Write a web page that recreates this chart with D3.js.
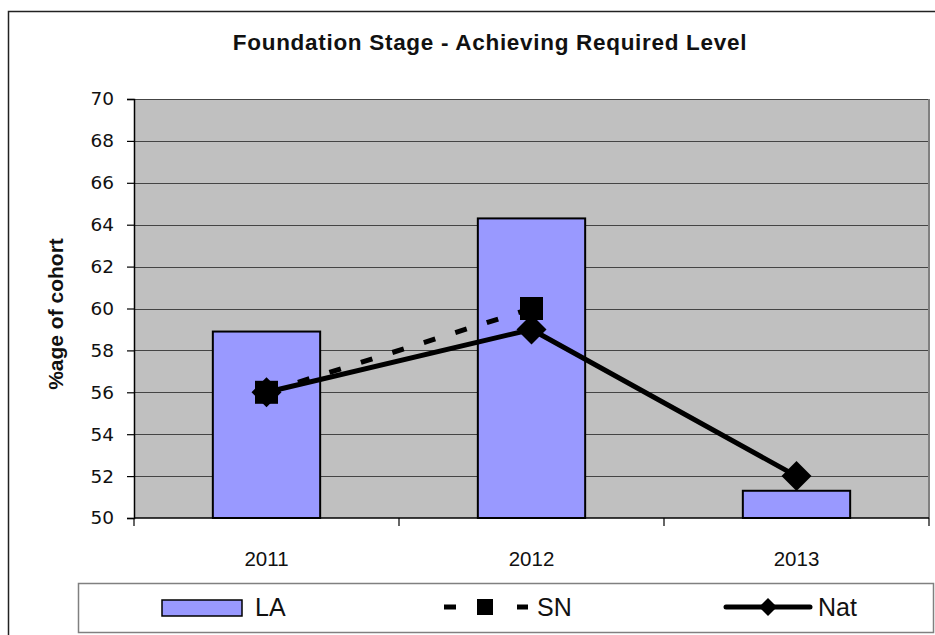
<!DOCTYPE html>
<html>
<head>
<meta charset="utf-8">
<script src="https://cdn.jsdelivr.net/npm/d3@7"></script>
<style>
  html, body { margin: 0; padding: 0; background: #ffffff; }
  svg { display: block; }
</style>
</head>
<body>
<svg id="chart" width="935" height="635"></svg>
<script>
// Foundation Stage results by year
const years = ["2011", "2012", "2013"];
const laValues = [58.9, 64.3, 51.3];      // LA (bars)
const snYears = ["2011", "2012"];
const snValues = [56, 60];                // SN (dashed line, squares)
const natValues = [56, 59, 52];           // Nat (solid line, diamonds)
const yTicks = [50, 52, 54, 56, 58, 60, 62, 64, 66, 68, 70];
const titleText = "Foundation Stage - Achieving Required Level";
const yLabelText = "%age of cohort";
const seriesNames = ["LA", "SN", "Nat"];

const svg = d3.select("#chart");
const plot = { left: 134, right: 929, top: 99, bottom: 518 };

// Outer chart frame (top and left edges are visible)
svg.append("path")
  .attr("d", "M8.5,640 V11.5 H940")
  .attr("fill", "none")
  .attr("stroke", "#222")
  .attr("stroke-width", 1.5);

// Title
svg.append("text")
  .attr("x", 490).attr("y", 50)
  .attr("text-anchor", "middle")
  .attr("font-family", "Liberation Sans, Arial, sans-serif")
  .attr("font-weight", "bold")
  .attr("font-size", 22.5)
  .attr("letter-spacing", "0.7px")
  .attr("fill", "#111")
  .text(titleText);

const x = d3.scaleBand().domain(years).range([plot.left, plot.right]).padding(0);
const y = d3.scaleLinear().domain([50, 70]).range([plot.bottom, plot.top]);
const cx = d => x(d) + x.bandwidth() / 2;
const barW = x.bandwidth() * 0.405;

// Plot background
svg.append("rect")
  .attr("x", plot.left).attr("y", plot.top)
  .attr("width", plot.right - plot.left).attr("height", plot.bottom - plot.top)
  .attr("fill", "#c0c0c0");

// Horizontal gridlines
svg.append("g").selectAll("line").data(yTicks.filter(t => t > 50)).join("line")
  .attr("x1", plot.left).attr("x2", plot.right)
  .attr("y1", d => Math.round(y(d)) + 0.5).attr("y2", d => Math.round(y(d)) + 0.5)
  .attr("stroke", "#444").attr("stroke-width", 1.2);

// Right edge of plot area
svg.append("line")
  .attr("x1", plot.right).attr("x2", plot.right)
  .attr("y1", plot.top).attr("y2", plot.bottom)
  .attr("stroke", "#808080").attr("stroke-width", 2);

// LA bars
svg.append("g").selectAll("rect").data(years).join("rect")
  .attr("x", d => cx(d) - barW / 2)
  .attr("y", (d, i) => y(laValues[i]))
  .attr("width", barW)
  .attr("height", (d, i) => y(50) - y(laValues[i]))
  .attr("fill", "#9999ff")
  .attr("stroke", "#000")
  .attr("stroke-width", 2);

// Y axis
const yAxis = d3.axisLeft(y).tickValues(yTicks).tickSize(7).tickPadding(13).tickFormat(d3.format("d"));
const gy = svg.append("g").attr("transform", `translate(${plot.left},0)`).call(yAxis);
gy.select(".domain").attr("stroke", "#000").attr("stroke-width", 1.5);
gy.selectAll(".tick line").attr("stroke", "#000").attr("stroke-width", 1.2);
gy.selectAll("text")
  .attr("font-family", "DejaVu Sans, sans-serif")
  .attr("font-size", 18.5)
  .attr("fill", "#111");

// X axis: baseline, boundary ticks, category labels
const gx = svg.append("g").attr("transform", `translate(0,${plot.bottom})`);
gx.append("line")
  .attr("x1", plot.left).attr("x2", plot.right)
  .attr("y1", 0).attr("y2", 0)
  .attr("stroke", "#000").attr("stroke-width", 1.5);
const bounds = years.map(d => x(d)).concat([x(years[years.length - 1]) + x.bandwidth()]);
gx.selectAll("line.bt").data(bounds).join("line")
  .attr("class", "bt")
  .attr("x1", d => d).attr("x2", d => d)
  .attr("y1", 0).attr("y2", 8)
  .attr("stroke", "#000").attr("stroke-width", 1.2);
const xAxis = d3.axisBottom(x).tickSize(0).tickPadding(0);
const gxl = svg.append("g").attr("transform", `translate(0,${plot.bottom})`).call(xAxis);
gxl.select(".domain").remove();
gxl.selectAll("text")
  .attr("y", 48).attr("dy", 0)
  .attr("font-family", "Liberation Sans, Arial, sans-serif")
  .attr("font-size", 20.5)
  .attr("fill", "#111");

// Y axis title
svg.append("text")
  .attr("transform", "translate(63,314) rotate(-90)")
  .attr("text-anchor", "middle")
  .attr("font-family", "Liberation Sans, Arial, sans-serif")
  .attr("font-weight", "bold")
  .attr("font-size", 21)
  .attr("fill", "#111")
  .text(yLabelText);

// SN dashed line with square markers
const seriesLine = d3.line().x(d => cx(d.year)).y(d => y(d.v));
const snData = snYears.map((yr, i) => ({ year: yr, v: snValues[i] }));
svg.append("path")
  .datum(snData)
  .attr("d", seriesLine)
  .attr("fill", "none")
  .attr("stroke", "#000")
  .attr("stroke-width", 5)
  .attr("stroke-dasharray", "12,21");

// Nat solid line with diamond markers
const natData = years.map((yr, i) => ({ year: yr, v: natValues[i] }));
svg.append("path")
  .datum(natData)
  .attr("d", seriesLine)
  .attr("fill", "none")
  .attr("stroke", "#000")
  .attr("stroke-width", 5)
  .attr("stroke-linejoin", "round");

svg.append("g").selectAll("rect").data(snData).join("rect")
  .attr("x", d => cx(d.year) - 11.5)
  .attr("y", d => y(d.v) - 11.5)
  .attr("width", 23).attr("height", 23)
  .attr("fill", "#000");

const diamond = (r) => `M0,${-r} L${r},0 L0,${r} L${-r},0 Z`;
svg.append("g").selectAll("path").data(natData).join("path")
  .attr("transform", d => `translate(${cx(d.year)},${y(d.v)})`)
  .attr("d", diamond(15))
  .attr("fill", "#000");

// Legend
const lg = svg.append("g");
lg.append("rect")
  .attr("x", 78.5).attr("y", 583.5).attr("width", 855).attr("height", 49)
  .attr("fill", "#fff").attr("stroke", "#808080").attr("stroke-width", 1.5);

const legendY = 607;

// LA swatch
lg.append("rect")
  .attr("x", 162).attr("y", 600).attr("width", 80).attr("height", 16)
  .attr("fill", "#9999ff").attr("stroke", "#000").attr("stroke-width", 1.5);
// SN sample
lg.append("line")
  .attr("x1", 444).attr("x2", 528).attr("y1", legendY).attr("y2", legendY)
  .attr("stroke", "#000").attr("stroke-width", 5)
  .attr("stroke-dasharray", "12,61,11");
lg.append("rect")
  .attr("x", 477).attr("y", legendY - 8).attr("width", 16).attr("height", 16)
  .attr("fill", "#000");
// Nat sample
lg.append("line")
  .attr("x1", 726).attr("x2", 810).attr("y1", legendY).attr("y2", legendY)
  .attr("stroke", "#000").attr("stroke-width", 5).attr("stroke-linecap", "round");
lg.append("path")
  .attr("transform", `translate(768,${legendY})`)
  .attr("d", diamond(9))
  .attr("fill", "#000");

const labelX = [255, 537, 818];
lg.selectAll("text").data(seriesNames).join("text")
  .attr("x", (d, i) => labelX[i])
  .attr("y", 616)
  .attr("font-family", "Liberation Sans, Arial, sans-serif")
  .attr("font-size", 25)
  .attr("fill", "#111")
  .text(d => d);
</script>
</body>
</html>
